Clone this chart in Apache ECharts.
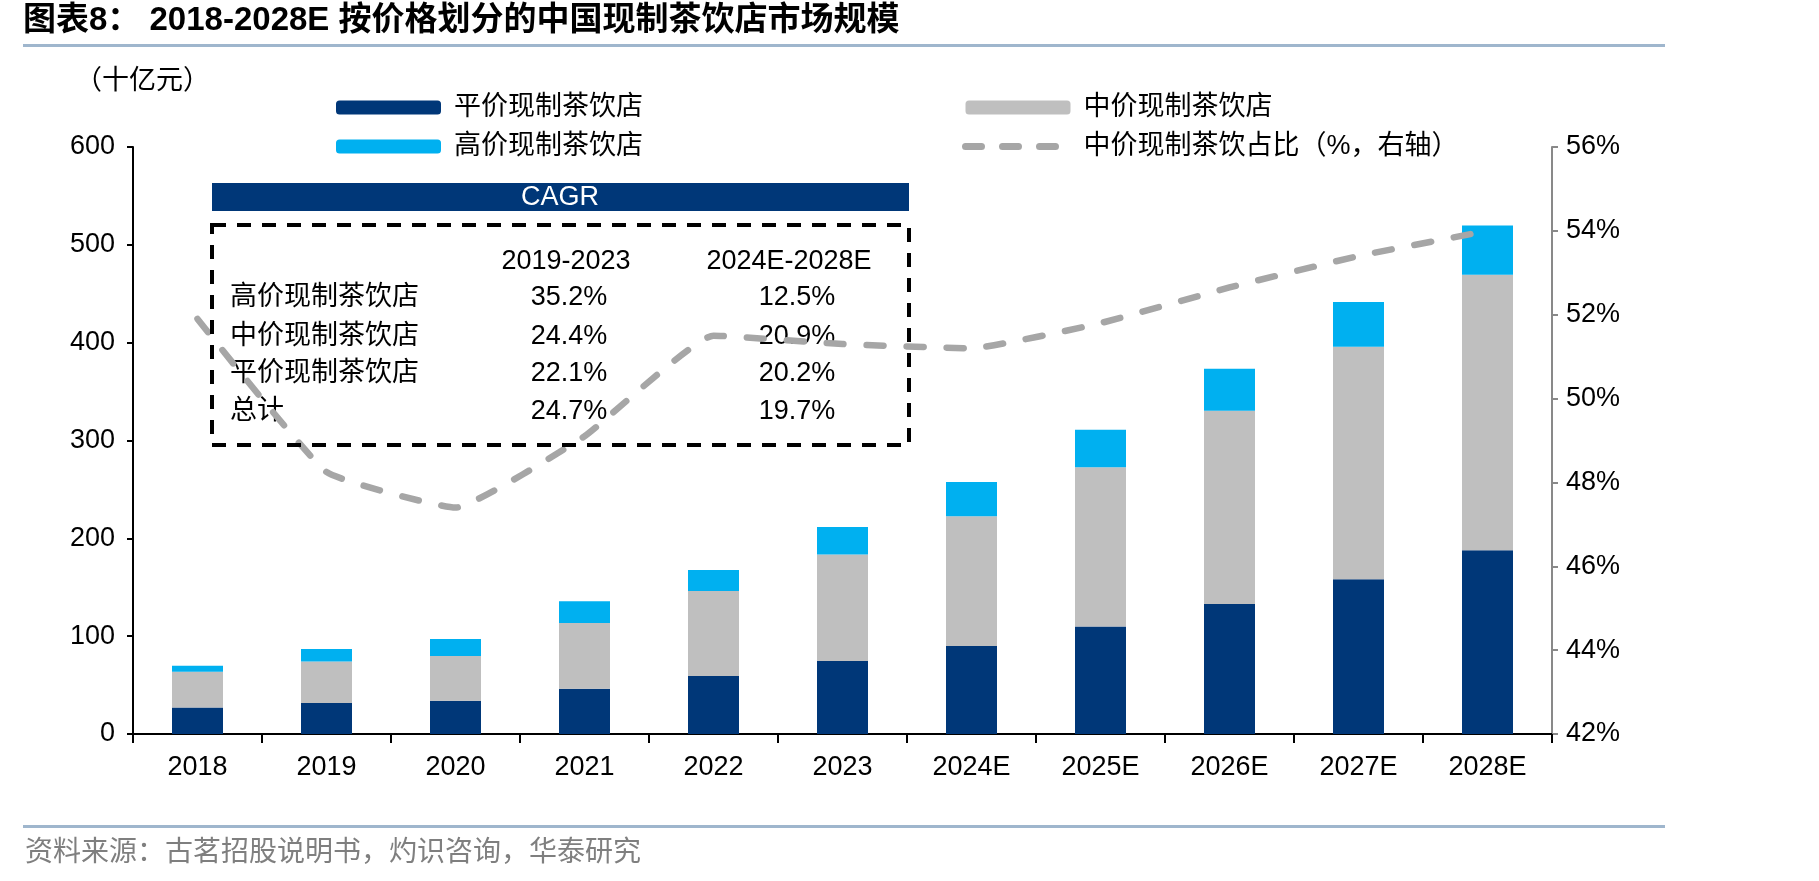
<!DOCTYPE html>
<html>
<head>
<meta charset="utf-8">
<title>2018-2028E 按价格划分的中国现制茶饮店市场规模</title>
<script src="https://cdn.jsdelivr.net/npm/echarts@6/dist/echarts.min.js"></script>
<style>
  html, body { margin: 0; padding: 0; background: #fff; }
  #main { width: 1819px; height: 881px; }
</style>
</head>
<body>
<div id="main"></div>
<script>
// 数据（十亿元）
const years = ['2018', '2019', '2020', '2021', '2022', '2023', '2024E', '2025E', '2026E', '2027E', '2028E'];
const lowPrice = [27, 31.7, 34, 46.3, 59.3, 74.6, 90, 110, 133, 158.3, 187.8];
const midPrice = [36.7, 42.3, 45.7, 67.2, 86.9, 109, 132.5, 162.7, 197.3, 237.4, 281.6];
const highPrice = [6.1, 12.9, 17.3, 22.1, 21.4, 28, 35, 38.2, 43.1, 45.9, 50.3];
const midShare = [51.9, 48.25, 47.4, 49.1, 51.5, 51.3, 51.2, 51.8, 52.65, 53.4, 54.0];

// CAGR 表
const cagrHeader = ['2019-2023', '2024E-2028E'];
const cagrRows = ['高价现制茶饮店', '中价现制茶饮店', '平价现制茶饮店', '总计'];
const cagr1923 = ['35.2%', '24.4%', '22.1%', '24.7%'];
const cagr2428 = ['12.5%', '20.9%', '20.2%', '19.7%'];

const FONT = "'Liberation Sans', 'Noto Sans CJK SC', sans-serif";
const NAVY = '#003778';
const GRAY = '#BFBFBF';
const BLUE = '#00B0F0';
const LINE_GRAY = '#A6A6A6';

let myChart = echarts.init(document.getElementById('main'));

// 表格文字
let tableTexts = [];
cagrHeader.forEach((h, i) => {
  tableTexts.push({
    type: 'text', x: [566, 789][i], y: 262,
    style: { text: h, font: '27px ' + FONT, fill: '#000', align: 'center', verticalAlign: 'middle' }
  });
});
cagrRows.forEach((r, i) => {
  let y = [298, 337, 374, 412][i];
  tableTexts.push({
    type: 'text', x: 230, y: y,
    style: { text: r, font: '27px ' + FONT, fill: '#000', align: 'left', verticalAlign: 'middle' }
  });
  tableTexts.push({
    type: 'text', x: 569, y: y,
    style: { text: cagr1923[i], font: '27px ' + FONT, fill: '#000', align: 'center', verticalAlign: 'middle' }
  });
  tableTexts.push({
    type: 'text', x: 797, y: y,
    style: { text: cagr2428[i], font: '27px ' + FONT, fill: '#000', align: 'center', verticalAlign: 'middle' }
  });
});

const legendText = { fontSize: 27, color: '#000', lineHeight: 23, padding: [0, 0, 0, 8] };

let option = {
  animation: false,
  textStyle: { fontFamily: FONT },
  grid: { left: 133, right: 267, top: 147, bottom: 147 },
  legend: [
    {
      left: 331, top: 89, orient: 'vertical',
      itemWidth: 105, itemHeight: 14, itemGap: 12,
      textStyle: legendText,
      data: ['平价现制茶饮店', '高价现制茶饮店']
    },
    {
      left: 957, top: 89, orient: 'vertical',
      itemWidth: 105, itemHeight: 14, itemGap: 12,
      textStyle: legendText,
      data: [
        '中价现制茶饮店',
        {
          name: '中价现制茶饮占比（%，右轴）',
          itemStyle: { opacity: 0 },
          lineStyle: { width: 7, type: [16, 21], cap: 'round', color: LINE_GRAY }
        }
      ]
    }
  ],
  xAxis: {
    type: 'category',
    data: years,
    axisLine: { lineStyle: { color: '#000', width: 2 } },
    axisTick: { show: true, length: 9, lineStyle: { color: '#000', width: 2 } },
    axisLabel: { fontSize: 27, color: '#000', margin: 20 }
  },
  yAxis: [
    {
      type: 'value', min: 0, max: 600, interval: 100,
      axisLine: { show: true, lineStyle: { color: '#000', width: 2 } },
      axisTick: { show: true, length: 6, lineStyle: { color: '#000', width: 2 } },
      axisLabel: { fontSize: 27, color: '#000', margin: 18 },
      splitLine: { show: false }
    },
    {
      type: 'value', min: 42, max: 56, interval: 2, position: 'right',
      axisLine: { show: true, lineStyle: { color: '#898989', width: 2 } },
      axisTick: { show: true, length: 6, lineStyle: { color: '#898989', width: 2 } },
      axisLabel: { fontSize: 27, color: '#000', margin: 14, formatter: '{value}%' },
      splitLine: { show: false }
    }
  ],
  series: [
    {
      name: '平价现制茶饮店', type: 'bar', stack: 'total', barWidth: 51,
      itemStyle: { color: NAVY }, data: lowPrice
    },
    {
      name: '中价现制茶饮店', type: 'bar', stack: 'total', barWidth: 51,
      itemStyle: { color: GRAY }, data: midPrice
    },
    {
      name: '高价现制茶饮店', type: 'bar', stack: 'total', barWidth: 51,
      itemStyle: { color: BLUE }, data: highPrice
    },
    {
      name: '中价现制茶饮占比（%，右轴）', type: 'line', yAxisIndex: 1,
      smooth: 0.12, symbol: 'none', z: 5,
      itemStyle: { color: LINE_GRAY },
      lineStyle: { color: LINE_GRAY, width: 6.5, type: [17, 23], cap: 'round' },
      data: midShare
    }
  ],
  graphic: [
    // 标题
    {
      type: 'text', left: 23, top: 4,
      style: { text: '图表8： 2018-2028E 按价格划分的中国现制茶饮店市场规模', font: 'bold 33px ' + FONT, fill: '#000' }
    },
    { type: 'rect', shape: { x: 23, y: 44, width: 1642, height: 3 }, style: { fill: '#9FB6CD' } },
    // 单位
    {
      type: 'text', x: 75, y: 82,
      style: { text: '（十亿元）', font: '27px ' + FONT, fill: '#000', verticalAlign: 'middle' }
    },
    // CAGR 标题栏
    { type: 'rect', shape: { x: 212, y: 183, width: 697, height: 28 }, style: { fill: NAVY }, z: 10 },
    {
      type: 'text', x: 560, y: 198, z: 11,
      style: { text: 'CAGR', font: '27px ' + FONT, fill: '#fff', align: 'center', verticalAlign: 'middle' }
    },
    // 虚线框
    {
      type: 'rect', shape: { x: 212, y: 225, width: 697, height: 220 }, z: 10,
      style: { fill: 'none', stroke: '#000', lineWidth: 4, lineDash: [14, 11] }
    },
    {
      type: 'group', z: 11, children: tableTexts
    },
    // 底部
    { type: 'rect', shape: { x: 23, y: 825, width: 1642, height: 3 }, style: { fill: '#9FB6CD' } },
    {
      type: 'text', x: 25, y: 853,
      style: { text: '资料来源：古茗招股说明书，灼识咨询，华泰研究', font: '28px ' + FONT, fill: '#7F7F7F', verticalAlign: 'middle' }
    }
  ]
};

myChart.setOption(option);
</script>
</body>
</html>
